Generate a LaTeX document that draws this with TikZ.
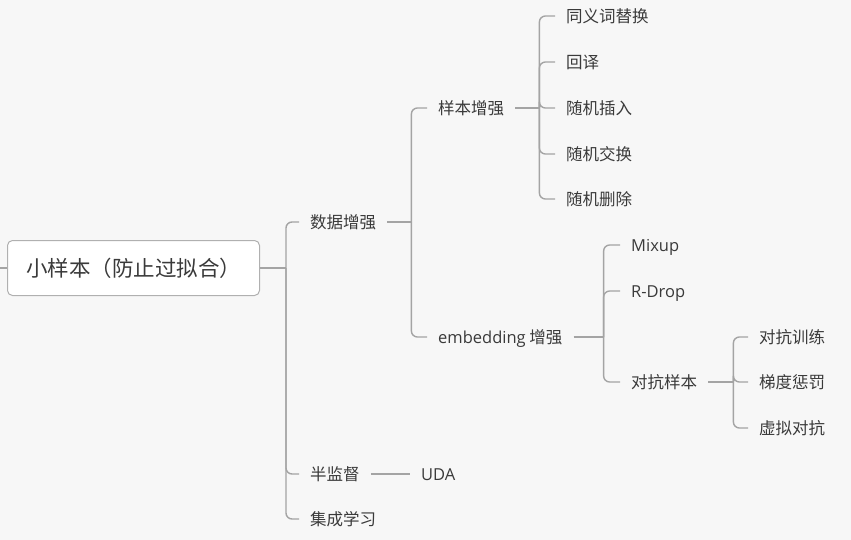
\documentclass[tikz,border=0pt]{standalone}
\usepackage{fontspec}
\newfontfamily\cjk{Noto Sans CJK SC}
\newfontfamily\lat{Open Sans}
\definecolor{bgcol}{HTML}{F7F7F7}
\definecolor{linecol}{HTML}{A4A4A4}
\definecolor{boxcol}{HTML}{B0B0B0}
\definecolor{txtcol}{HTML}{3A3A3A}
\tikzset{
  topic/.style={anchor=west, inner xsep=11pt, inner ysep=0pt, text height=13.5pt, text depth=0pt,
    font=\cjk\fontsize{16.5}{20}\selectfont, text=txtcol},
  rootbox/.style={anchor=west, draw=boxcol, fill=white, line width=1pt, rounded corners=5pt,
    minimum width=252pt, minimum height=55pt, inner sep=0pt, text height=17.5pt, text depth=0pt,
    font=\cjk\fontsize{21.5}{26}\selectfont, text=txtcol},
  link/.style={draw=linecol, line width=1.4pt, rounded corners=6pt},
}

\begin{document}
\begin{tikzpicture}[x=1pt,y=-1pt]
		\fill[bgcol] (0,0) rectangle (851,540);
		\useasboundingbox (0,0) rectangle (851,540);
		% root
		\node[rootbox] (root) at (7,268) {小样本（防止过拟合）};
		\coordinate (stub) at (0,268);
		% first level
		\node[topic] (sjzq) at (299,222) {数据增强};
		\node[topic] (bjd) at (299,474) {半监督};
		\node[topic] (jcxx) at (299,519) {集成学习};
		% second level
		\node[topic] (ybzq) at (427,108) {样本增强};
		\node[topic] (embzq) at (427,337) {{\lat embedding} 增强};
		\node[topic] (uda) at (410,474) {\lat UDA};
		% sample level
		\node[topic] (tyc) at (555,16) {同义词替换};
		\node[topic] (hy) at (555,62) {回译};
		\node[topic] (sjcr) at (555,108) {随机插入};
		\node[topic] (sjjh) at (555,154) {随机交换};
		\node[topic] (sjsc) at (555,199) {随机删除};
		% embedding level
		\node[topic] (mixup) at (620,245) {\lat Mixup};
		\node[topic] (rdrop) at (620,291) {\lat R-Drop};
		\node[topic] (dkyb) at (620,382) {对抗样本};
		% adversarial level
		\node[topic] (dkxl) at (748,337) {对抗训练};
		\node[topic] (tdcf) at (748,382) {梯度惩罚};
		\node[topic] (xndk) at (748,428) {虚拟对抗};

		\draw[link] (stub) -- (root.west);
		\draw[link] (root.east) -- ++(26,0) coordinate (j0);
		\draw[link] (j0) |- (sjzq.west);
		\draw[link] (j0) |- (bjd.west);
		\draw[link] (j0) |- (jcxx.west);

		\draw[link] (sjzq.east) -- ++(24,0) coordinate (j1);
		\draw[link] (j1) |- (ybzq.west);
		\draw[link] (j1) |- (embzq.west);

		\draw[link] (ybzq.east) -- ++(24,0) coordinate (j2);
		\foreach \c in {tyc,hy,sjcr,sjjh,sjsc}
			\draw[link] (j2) |- (\c.west);

		\draw[link] (embzq.east) -- ++(30,0) coordinate (j3);
		\foreach \c in {mixup,rdrop,dkyb}
			\draw[link] (j3) |- (\c.west);

		\draw[link] (dkyb.east) -- ++(25,0) coordinate (j4);
		\foreach \c in {dkxl,tdcf,xndk}
			\draw[link] (j4) |- (\c.west);

		\draw[link] (bjd.east) -- (uda.west);
	\end{tikzpicture}
\end{document}
